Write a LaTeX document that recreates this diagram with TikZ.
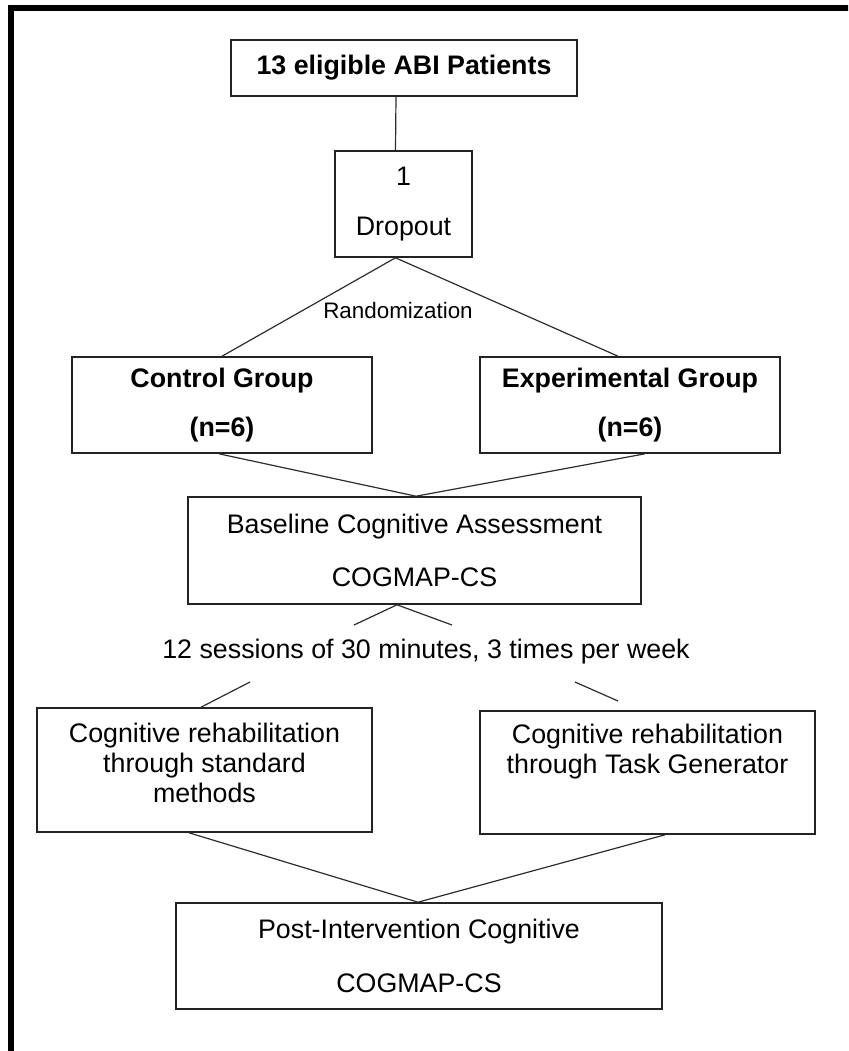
\documentclass[tikz,border=0pt]{standalone}
\usepackage{fontspec}
\setmainfont{Liberation Sans}
\usetikzlibrary{positioning, calc}
\definecolor{FrameColor}{RGB}{0,0,0}
\definecolor{BoxColor}{RGB}{35,35,35}
\definecolor{LinkColor}{RGB}{45,45,45}
\newcommand{\boxfont}{\fontsize{13.4}{15}\selectfont}
\tikzset{
  box/.style={draw=BoxColor, line width=0.8pt, rectangle, align=center, font=\boxfont, inner sep=0pt},
  bold box/.style={box, font=\boxfont\bfseries},
  box text/.style={align=center, font=\boxfont, inner sep=0pt},
  small label/.style={font=\fontsize{11.2}{13}\selectfont, inner sep=0pt},
  link/.style={draw=LinkColor, line width=0.6pt}
}

\begin{document}
\begin{tikzpicture}[x=0.5pt, y=-0.5pt]
  \useasboundingbox (0,0) rectangle (848,1051);
  \clip (0,0) rectangle (848,1051);

  % Outer frame
  \draw[line width=2.6pt, FrameColor] (11,8) rectangle (900,1100);

  % Patients and dropout
  \node[bold box, minimum width=173pt, minimum height=28pt] (patients) at (404,68) {13 eligible ABI Patients};
  \node[box, minimum width=68.5pt, minimum height=53pt] (dropout) at (403.5,204) {1\\[10pt]Dropout};

  % Groups
  \node[bold box, minimum width=150pt, minimum height=48pt] (control) at (222,405) {Control Group\\[9.5pt](n=6)};
  \node[bold box, minimum width=150pt, minimum height=48pt] (experimental) at (630,405) {Experimental Group\\[9.5pt](n=6)};
  \node[small label] (randomization) at (398,310) {Randomization};

  % Baseline assessment
  \node[box, minimum width=226.5pt, minimum height=53.5pt] (baseline) at (414.5,550.5) {Baseline Cognitive Assessment\\[11.5pt]COGMAP-CS};
  \node[box text] (sessions) at (426,652) {12 sessions of 30 minutes, 3 times per week};

  % Rehabilitation arms
  \node[box, minimum width=167.5pt, minimum height=62pt] (standard) at (204.5,770) {};
  \node[box text] (standard text) at (204.5,763) {Cognitive rehabilitation\\through standard\\methods};
  \node[box, minimum width=167.5pt, minimum height=61.5pt] (task) at (647.5,772.5) {};
  \node[box text] (task text) at (647.5,751.5) {Cognitive rehabilitation\\through Task Generator};

  % Post intervention
  \node[box, minimum width=243pt, minimum height=53pt] (post) at (419,956) {Post-Intervention Cognitive\\[12pt]COGMAP-CS};

  % Free ends round the sessions label
  \coordinate (base left) at (354,625);
  \coordinate (base right) at (452,625);
  \coordinate (sess left) at (250,682);
  \coordinate (sess right) at (575,682);
  \coordinate (task end) at (618,701);

  % Connectors
  \draw[link] ([xshift=-4pt]patients.south) -- ([xshift=-4pt]dropout.north);
  \draw[link] ([xshift=-4pt]dropout.south) -- (control.north);
  \draw[link] ([xshift=-4pt]dropout.south) -- ([xshift=-6pt]experimental.north);
  \draw[link] ([xshift=-1.5pt]control.south) -- ([xshift=0.75pt]baseline.north);
  \draw[link] ([xshift=7.5pt]experimental.south) -- ([xshift=0.75pt]baseline.north);
  \draw[link] (base left) -- ([xshift=-8.75pt]baseline.south) -- (base right);
  \draw[link] (sess left) -- ([xshift=-1.75pt]standard.north);
  \draw[link] (sess right) -- (task end);
  \draw[link] ([xshift=-7.75pt]standard.south) -- ([xshift=-0.5pt]post.north);
  \draw[link] ([xshift=8.75pt]task.south) -- ([xshift=-0.5pt]post.north);
\end{tikzpicture}
\end{document}
